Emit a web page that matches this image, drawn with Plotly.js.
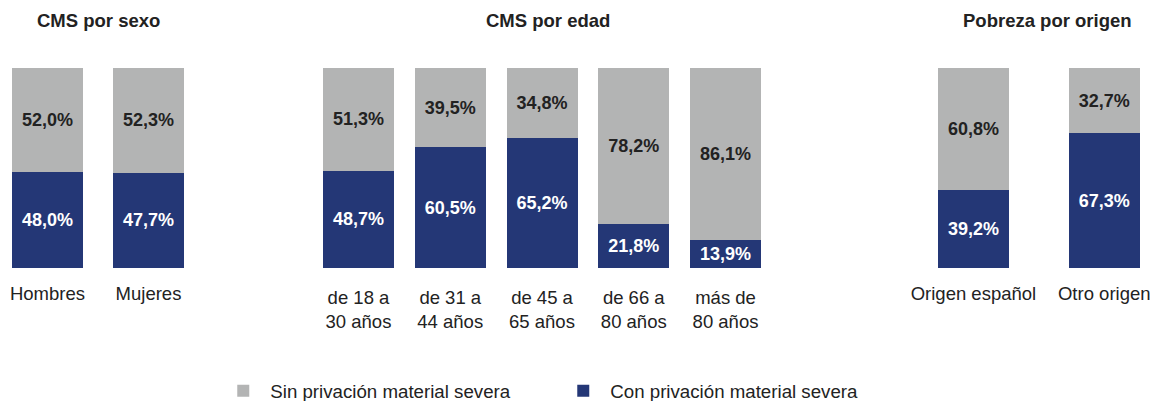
<!DOCTYPE html>
<html>
<head>
<meta charset="utf-8">
<script src="https://cdn.plot.ly/plotly-3.0.1.min.js"></script>
<style>
  body { margin: 0; background: #fff; }
  #myPlot { width: 1169px; height: 401px; }
</style>
</head>
<body>
<div id="myPlot"></div>
<script>
// categorias de cada bloque
var sexoCats = ["Hombres", "Mujeres"];
var edadCats = ["de 18 a<br>30 años", "de 31 a<br>44 años", "de 45 a<br>65 años", "de 66 a<br>80 años", "más de<br>80 años"];
var origenCats = ["Origen español", "Otro origen"];

// % con privacion material severa
var sexoCon = [48.0, 47.7];
var edadCon = [48.7, 60.5, 65.2, 21.8, 13.9];
var origenCon = [39.2, 67.3];

// % sin privacion material severa
var sexoSin = [52.0, 52.3];
var edadSin = [51.3, 39.5, 34.8, 78.2, 86.1];
var origenSin = [60.8, 32.7];

var titulos = ["CMS por sexo", "CMS por edad", "Pobreza por origen"];
var nombreCon = "Con privación material severa";
var nombreSin = "Sin privación material severa";

var azul = "#243776";
var gris = "#b3b4b4";
var fuente = "Liberation Sans, Arial, Helvetica, sans-serif";

function barras(cats, vals, nombre, color, txtColor, xa, ya, anchoBarra, leyenda) {
  return {
    type: "bar",
    x: cats, y: vals,
    name: nombre,
    xaxis: xa, yaxis: ya,
    marker: {color: color, line: {width: 0}},
    width: anchoBarra,
    texttemplate: "%{y:.1f}%",
    textposition: "inside",
    insidetextanchor: "middle",
    textangle: 0,
    constraintext: "none",
    textfont: {family: fuente, size: 18, color: txtColor, weight: 700},
    legendgroup: nombre,
    showlegend: leyenda,
    hoverinfo: "skip"
  };
}

var data = [
  barras(sexoCats, sexoCon, nombreCon, azul, "#ffffff", "x", "y", 71/101, true),
  barras(sexoCats, sexoSin, nombreSin, gris, "#222222", "x", "y", 71/101, true),
  barras(edadCats, edadCon, nombreCon, azul, "#ffffff", "x2", "y2", 71/91.75, false),
  barras(edadCats, edadSin, nombreSin, gris, "#222222", "x2", "y2", 71/91.75, false),
  barras(origenCats, origenCon, nombreCon, azul, "#ffffff", "x3", "y3", 71/131, false),
  barras(origenCats, origenSin, nombreSin, gris, "#222222", "x3", "y3", 71/131, false)
];

function ejeX(dom, rng, anchor, standoff) {
  return {
    domain: dom, range: rng, anchor: anchor,
    type: "category",
    showgrid: false, zeroline: false, showline: false, ticks: "",
    ticklabelstandoff: standoff,
    automargin: false,
    tickfont: {family: fuente, size: 18.5, color: "#222222"},
    fixedrange: true
  };
}
function ejeY() {
  return {
    domain: [0, 1], range: [0, 100],
    visible: false, showgrid: false, zeroline: false, fixedrange: true
  };
}

var layout = {
  width: 1169, height: 401,
  margin: {l: 0, r: 0, t: 68, b: 133, autoexpand: false},
  paper_bgcolor: "#ffffff", plot_bgcolor: "#ffffff",
  barmode: "stack",
  separators: ",.",
  font: {family: fuente, size: 18, color: "#222222"},
  xaxis: ejeX([0, 199/1169], [-0.47, 1.5], "y", 12),
  xaxis2: ejeX([312.6/1169, 771.4/1169], [-0.5, 4.5], "y2", 16),
  xaxis3: ejeX([908/1169, 1], [-0.5, 1.495], "y3", 12),
  yaxis: Object.assign(ejeY(), {anchor: "x"}),
  yaxis2: Object.assign(ejeY(), {anchor: "x2"}),
  yaxis3: Object.assign(ejeY(), {anchor: "x3"}),
  showlegend: true,
  legend: {
    orientation: "h",
    traceorder: "reversed",
    x: 0.185, xanchor: "left",
    y: -0.615, yanchor: "middle",
    itemwidth: 44,
    entrywidth: 281, entrywidthmode: "pixels",
    font: {family: fuente, size: 18.7, color: "#222222"}
  },
  annotations: [
    {text: "<b>" + titulos[0] + "</b>", x: 98/1169, y: 1.235},
    {text: "<b>" + titulos[1] + "</b>", x: 548/1169, y: 1.235},
    {text: "<b>" + titulos[2] + "</b>", x: 1047/1169, y: 1.235}
  ].map(function(a) {
    return Object.assign(a, {xref: "paper", yref: "paper", showarrow: false,
      xanchor: "center", yanchor: "middle",
      font: {family: fuente, size: 18.5, color: "#222222"}});
  })
};

Plotly.newPlot("myPlot", data, layout, {displayModeBar: false, staticPlot: true});
</script>
</body>
</html>
